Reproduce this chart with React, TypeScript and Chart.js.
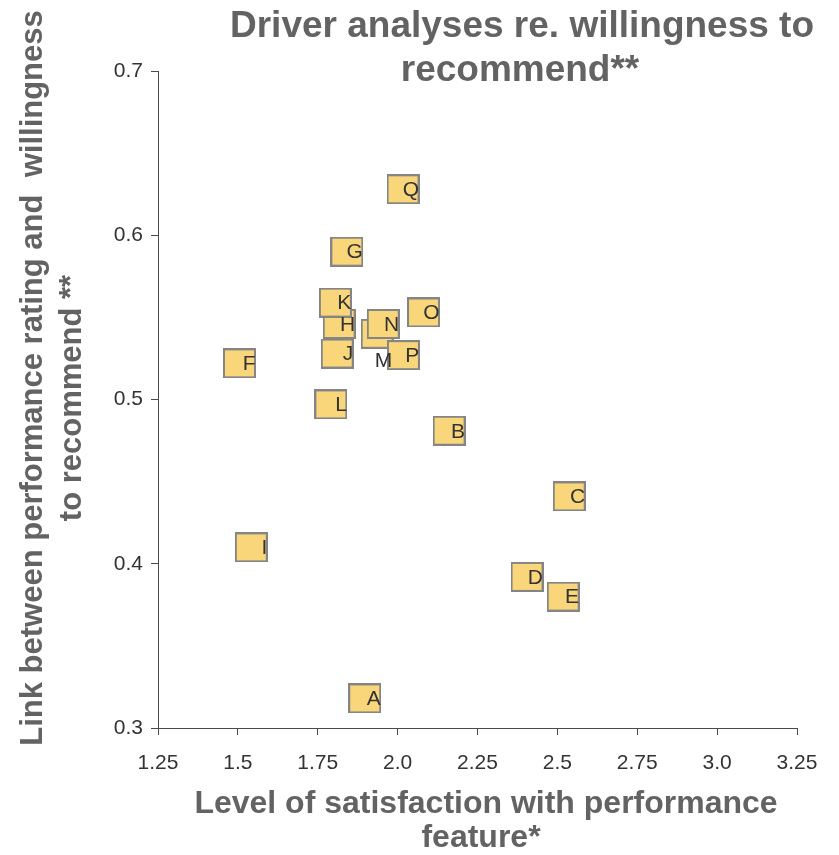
import { useEffect, useRef } from 'react';
import { Chart, registerables } from 'chart.js';

Chart.register(...registerables);

// Performance features (one box per feature)
const featureCodes = ['A', 'B', 'C', 'D', 'E', 'F', 'G', 'H', 'I', 'J', 'K', 'L', 'M', 'N', 'O', 'P', 'Q'];
// Level of satisfaction with each feature (x)
const satisfaction = [1.897, 2.161, 2.537, 2.405, 2.518, 1.505, 1.841, 1.817, 1.542, 1.811, 1.805, 1.791, 1.936, 1.955, 2.081, 2.018, 2.017];
// Link between performance rating and willingness to recommend (y)
const recommendLink = [0.318, 0.481, 0.441, 0.392, 0.380, 0.522, 0.590, 0.546, 0.410, 0.528, 0.559, 0.497, 0.540, 0.546, 0.553, 0.527, 0.628];

const xTickLabels = ['1.25', '1.5', '1.75', '2.0', '2.25', '2.5', '2.75', '3.0', '3.25'];
const yTickLabels = ['0.3', '0.4', '0.5', '0.6', '0.7'];

const titleLines = ['Driver analyses re. willingness to', 'recommend**'];
const xTitleLines = ['Level of satisfaction with performance', 'feature*'];
const yTitleLines = ['Link between performance rating and  willingness', 'to recommend **'];

const FONT = "'Liberation Sans', Arial, Helvetica, sans-serif";
const TITLE_COLOR = '#636363';
const TEXT_COLOR = '#333333';
const AXIS_COLOR = '#4a4a4a';

// Labels that sit outside their box: [dx, dy] from the point centre
const labelOffsets: Record<string, [number, number]> = { M: [15, 27] };

function makeBox(): HTMLCanvasElement {
  const c = document.createElement('canvas');
  c.width = 33;
  c.height = 30;
  const ctx = c.getContext('2d')!;
  ctx.fillStyle = '#858585';
  ctx.fillRect(0, 0, c.width, c.height);
  ctx.fillStyle = '#FAD67B';
  ctx.fillRect(2, 2, c.width - 4, c.height - 4);
  return c;
}

const pointLabels = {
  id: 'pointLabels',
  afterDatasetsDraw(chart: Chart) {
    const ctx = chart.ctx;
    const meta = chart.getDatasetMeta(0);
    ctx.save();
    ctx.font = `21px ${FONT}`;
    ctx.fillStyle = TEXT_COLOR;
    ctx.textAlign = 'right';
    ctx.textBaseline = 'middle';
    meta.data.forEach((el: any, i: number) => {
      const code = featureCodes[i];
      const [dx, dy] = labelOffsets[code] ?? [16, 1];
      ctx.fillText(code, el.x + dx, el.y + dy);
    });
    ctx.restore();
  },
};

const textBlocks = {
  id: 'textBlocks',
  afterDraw(chart: Chart) {
    const ctx = chart.ctx;
    ctx.save();
    ctx.fillStyle = TITLE_COLOR;
    ctx.textAlign = 'center';
    ctx.textBaseline = 'alphabetic';

    ctx.font = `bold 37px ${FONT}`;
    ctx.fillText(titleLines[0], 522, 37);
    ctx.fillText(titleLines[1], 520, 81);

    ctx.font = `bold 32px ${FONT}`;
    ctx.fillText(xTitleLines[0], 486, 813);
    ctx.fillText(xTitleLines[1], 481, 847);

    ctx.font = `bold 31px ${FONT}`;
    ctx.save();
    ctx.translate(42, 378);
    ctx.rotate(-Math.PI / 2);
    ctx.fillText(yTitleLines[0], 0, 0);
    ctx.restore();
    ctx.save();
    ctx.translate(81, 398);
    ctx.rotate(-Math.PI / 2);
    ctx.fillText(yTitleLines[1], 0, 0);
    ctx.restore();

    ctx.restore();
  },
};

export default function App() {
  const canvasRef = useRef<HTMLCanvasElement | null>(null);

  useEffect(() => {
    if (!canvasRef.current) return;
    const box = makeBox();
    const chart = new Chart(canvasRef.current, {
      type: 'scatter',
      data: {
        datasets: [
          {
            label: 'Features',
            data: satisfaction.map((x, i) => ({ x, y: recommendLink[i] })),
            pointStyle: box,
            pointRadius: 16,
            pointHoverRadius: 16,
          },
        ],
      },
      options: {
        animation: false,
        responsive: true,
        maintainAspectRatio: false,
        events: [],
        layout: { padding: { top: 71, right: 42, bottom: 0, left: 0 } },
        plugins: {
          legend: { display: false },
          title: { display: false },
          tooltip: { enabled: false },
        },
        scales: {
          x: {
            type: 'linear',
            min: 1.25,
            max: 3.25,
            afterFit: (s: any) => {
              s.height = 127;
            },
            ticks: {
              stepSize: 0.25,
              autoSkip: false,
              maxRotation: 0,
              padding: 16,
              color: TEXT_COLOR,
              font: { family: FONT, size: 21 },
              callback: (_v: any, i: number) => xTickLabels[i],
            },
            grid: { drawOnChartArea: false, drawTicks: true, tickLength: 7, color: AXIS_COLOR, lineWidth: 1 },
            border: { color: AXIS_COLOR, width: 1 },
          },
          y: {
            type: 'linear',
            min: 0.3,
            max: 0.7,
            afterFit: (s: any) => {
              s.width = 158;
            },
            ticks: {
              stepSize: 0.1,
              autoSkip: false,
              padding: 8,
              color: TEXT_COLOR,
              font: { family: FONT, size: 21 },
              callback: (_v: any, i: number) => yTickLabels[i],
            },
            grid: { drawOnChartArea: false, drawTicks: true, tickLength: 7, color: AXIS_COLOR, lineWidth: 1 },
            border: { color: AXIS_COLOR, width: 1 },
          },
        },
      },
      plugins: [pointLabels, textBlocks],
    });
    return () => chart.destroy();
  }, []);

  return (
    <div style={{ position: 'absolute', left: 0, top: 0, width: 839, height: 855, background: '#ffffff' }}>
      <canvas ref={canvasRef} />
    </div>
  );
}
